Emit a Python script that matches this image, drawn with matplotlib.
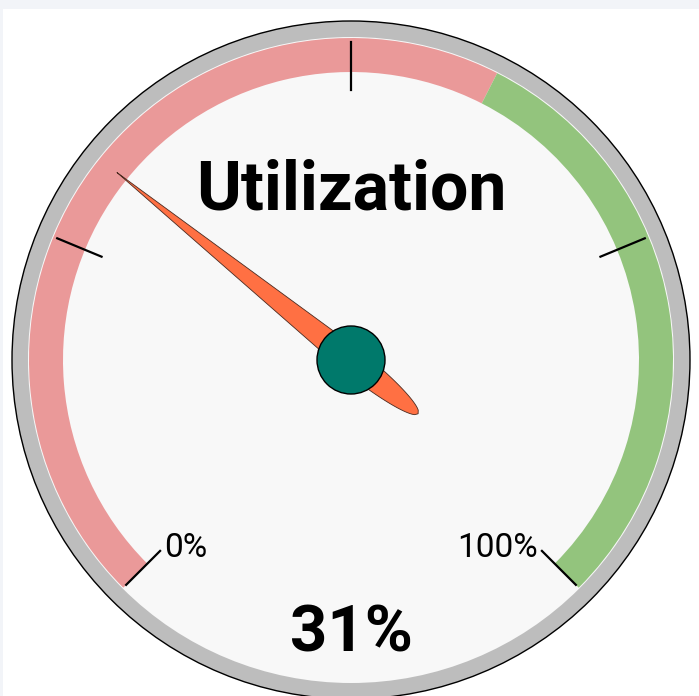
import numpy as np
import matplotlib
matplotlib.use("Agg")
import matplotlib.pyplot as plt
from matplotlib.patches import Circle, Wedge, Rectangle, Polygon

# gauge data
title = "Utilization"
value = 31
vmin, vmax = 0, 100
band_limits = [0, 60, 100]
band_colors = ["#ea9999", "#93c47d"]
tick_values = [0, 25, 50, 75, 100]
tick_labels = {0: "0%", 100: "100%"}

plt.rcParams['font.family'] = ['Roboto', 'DejaVu Sans']

fig = plt.figure(figsize=(6.99, 6.96), dpi=100, facecolor="#f2f4f8")
ax = fig.add_axes([0, 0, 1, 1])
ax.set_xlim(-351, 348)
ax.set_ylim(-336, 360)
ax.set_aspect("equal")
ax.axis("off")

def ang(v):
    # 0% at 225 deg, 100% at -45 deg
    return 225 - 270 * (v - vmin) / (vmax - vmin)

# white card behind the gauge
ax.add_patch(Rectangle((-348, -340), 700, 691, facecolor="white", edgecolor="none", zorder=0))

# outer ring and face
ax.add_patch(Circle((0, 0), 339, facecolor="#bdbdbd", edgecolor="black", lw=1, zorder=1))
ax.add_patch(Circle((0, 0), 323, facecolor="#f8f8f8", edgecolor="none", zorder=2))

# colored bands
for lo, hi, c in zip(band_limits[:-1], band_limits[1:], band_colors):
    ax.add_patch(Wedge((0, 0), 322, ang(hi), ang(lo), width=34, facecolor=c, edgecolor="none", zorder=3))

# ticks and labels
for t in tick_values:
    a = np.radians(ang(t))
    ax.plot([270 * np.cos(a), 318 * np.cos(a)], [270 * np.sin(a), 318 * np.sin(a)],
            color="black", lw=1.6, zorder=4)
    if t in tick_labels:
        x, y = 270 * np.cos(a), 270 * np.sin(a)
        ha = "left" if np.cos(a) < 0 else "right"
        ax.text(x + (4 if ha == "left" else -4), y - 6, tick_labels[t], ha=ha, va="baseline",
                fontsize=24, color="black", zorder=4)

# title and value
ax.text(0, 150, title, ha="center", va="baseline", fontsize=49, fontweight="bold", zorder=4)
ax.text(0, -291, f"{value}%", ha="center", va="baseline", fontsize=47, fontweight="bold", zorder=4)

# needle
a = np.radians(ang(value))
s_tail = np.linspace(-86, 0, 40)
w_tail = 13 * np.sqrt(1 - (s_tail / 86) ** 2)
s_head = np.linspace(0, 300, 40)
w_head = 13 * (1 - s_head / 300)
s = np.concatenate([s_tail, s_head[1:]])
w = np.concatenate([w_tail, w_head[1:]])
ux, uy = np.cos(a), np.sin(a)
px, py = -uy, ux
xs = np.concatenate([s * ux + w * px, (s * ux - w * px)[::-1]])
ys = np.concatenate([s * uy + w * py, (s * uy - w * py)[::-1]])
ax.add_patch(Polygon(np.column_stack([xs, ys]), closed=True, facecolor="#ff7043",
                     edgecolor="#4a2a20", lw=0.6, zorder=5))

# hub
ax.add_patch(Circle((0, 0), 34, facecolor="#00796b", edgecolor="black", lw=1, zorder=6))

fig.savefig("out.png", dpi=100, facecolor=fig.get_facecolor())
